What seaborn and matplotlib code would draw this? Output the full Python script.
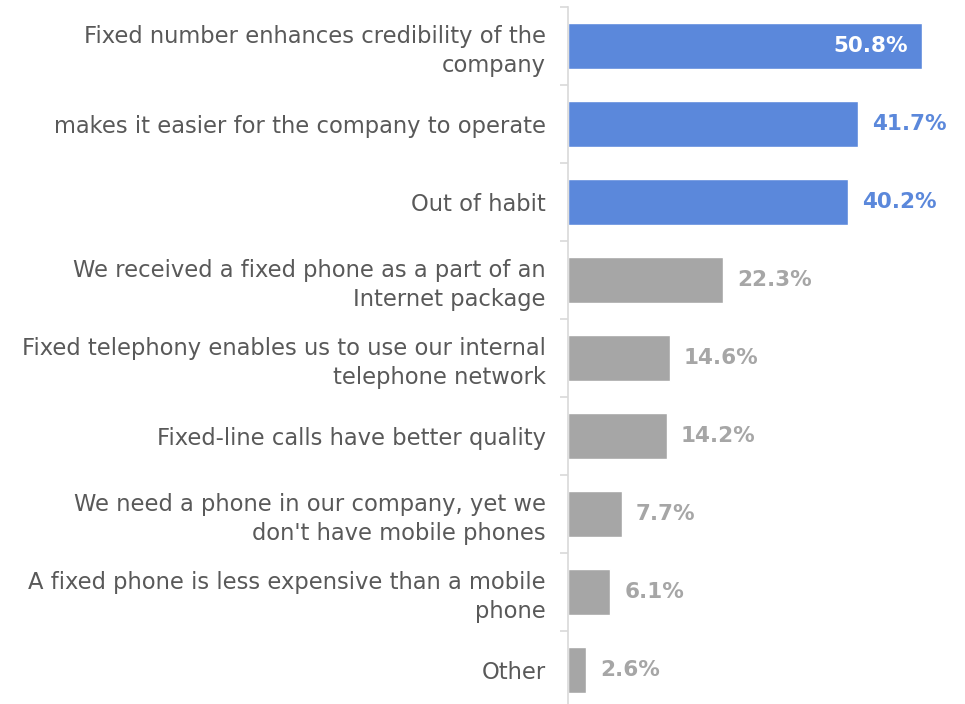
import pandas as pd
import numpy as np
import seaborn as sns
import matplotlib.pyplot as plt

# Data
categories = [
    "Fixed number enhances credibility of the\ncompany",
    "makes it easier for the company to operate",
    "Out of habit",
    "We received a fixed phone as a part of an\nInternet package",
    "Fixed telephony enables us to use our internal\ntelephone network",
    "Fixed-line calls have better quality",
    "We need a phone in our company, yet we\ndon't have mobile phones",
    "A fixed phone is less expensive than a mobile\nphone",
    "Other",
]
values = [50.8, 41.7, 40.2, 22.3, 14.6, 14.2, 7.7, 6.1, 2.6]
highlighted = [True, True, True, False, False, False, False, False, False]

BLUE = "#5B88DB"
GREY = "#A6A6A6"
TEXT = "#595959"

df = pd.DataFrame({"reason": categories, "share": values})
palette = {c: (BLUE if h else GREY) for c, h in zip(categories, highlighted)}

sns.set_style("white")
plt.rcParams["font.family"] = ["DejaVu Sans"]

fig = plt.figure(figsize=(9.65, 7.04), dpi=100)
ax = fig.add_axes([568 / 965, -5 / 704, (965 - 568) / 965, 702 / 704])

sns.barplot(data=df, x="share", y="reason", hue="reason", palette=palette,
            legend=False, width=0.58, saturation=1, ax=ax)

ax.set_xlim(0, 57)
ax.set_ylim(len(categories) - 0.5, -0.5)
ax.set_xlabel("")
ax.set_ylabel("")
ax.set_xticks([])

for s in ["top", "right", "bottom"]:
    ax.spines[s].set_visible(False)
ax.spines["left"].set_color("#D9D9D9")
ax.spines["left"].set_linewidth(1.2)

ax.tick_params(axis="y", which="major", left=False, length=0, pad=16,
               labelsize=16.3, labelcolor=TEXT)
for lbl in ax.get_yticklabels():
    lbl.set_linespacing(1.3)
ax.set_yticks(np.arange(-0.5, len(categories), 1), minor=True)
ax.tick_params(axis="y", which="minor", left=True, length=6, width=1.2,
               color="#D9D9D9", direction="out")

# Value labels
for i, (v, h) in enumerate(zip(values, highlighted)):
    if i == 0:
        ax.text(v - 2.0, i, f"{v:.1f}%", ha="right", va="center",
                color="white", fontsize=15.5, fontweight="bold")
    else:
        ax.text(v + 2.0, i, f"{v:.1f}%", ha="left", va="center",
                color=BLUE if h else GREY, fontsize=15.5, fontweight="bold")

fig.savefig("out.png", dpi=100)
